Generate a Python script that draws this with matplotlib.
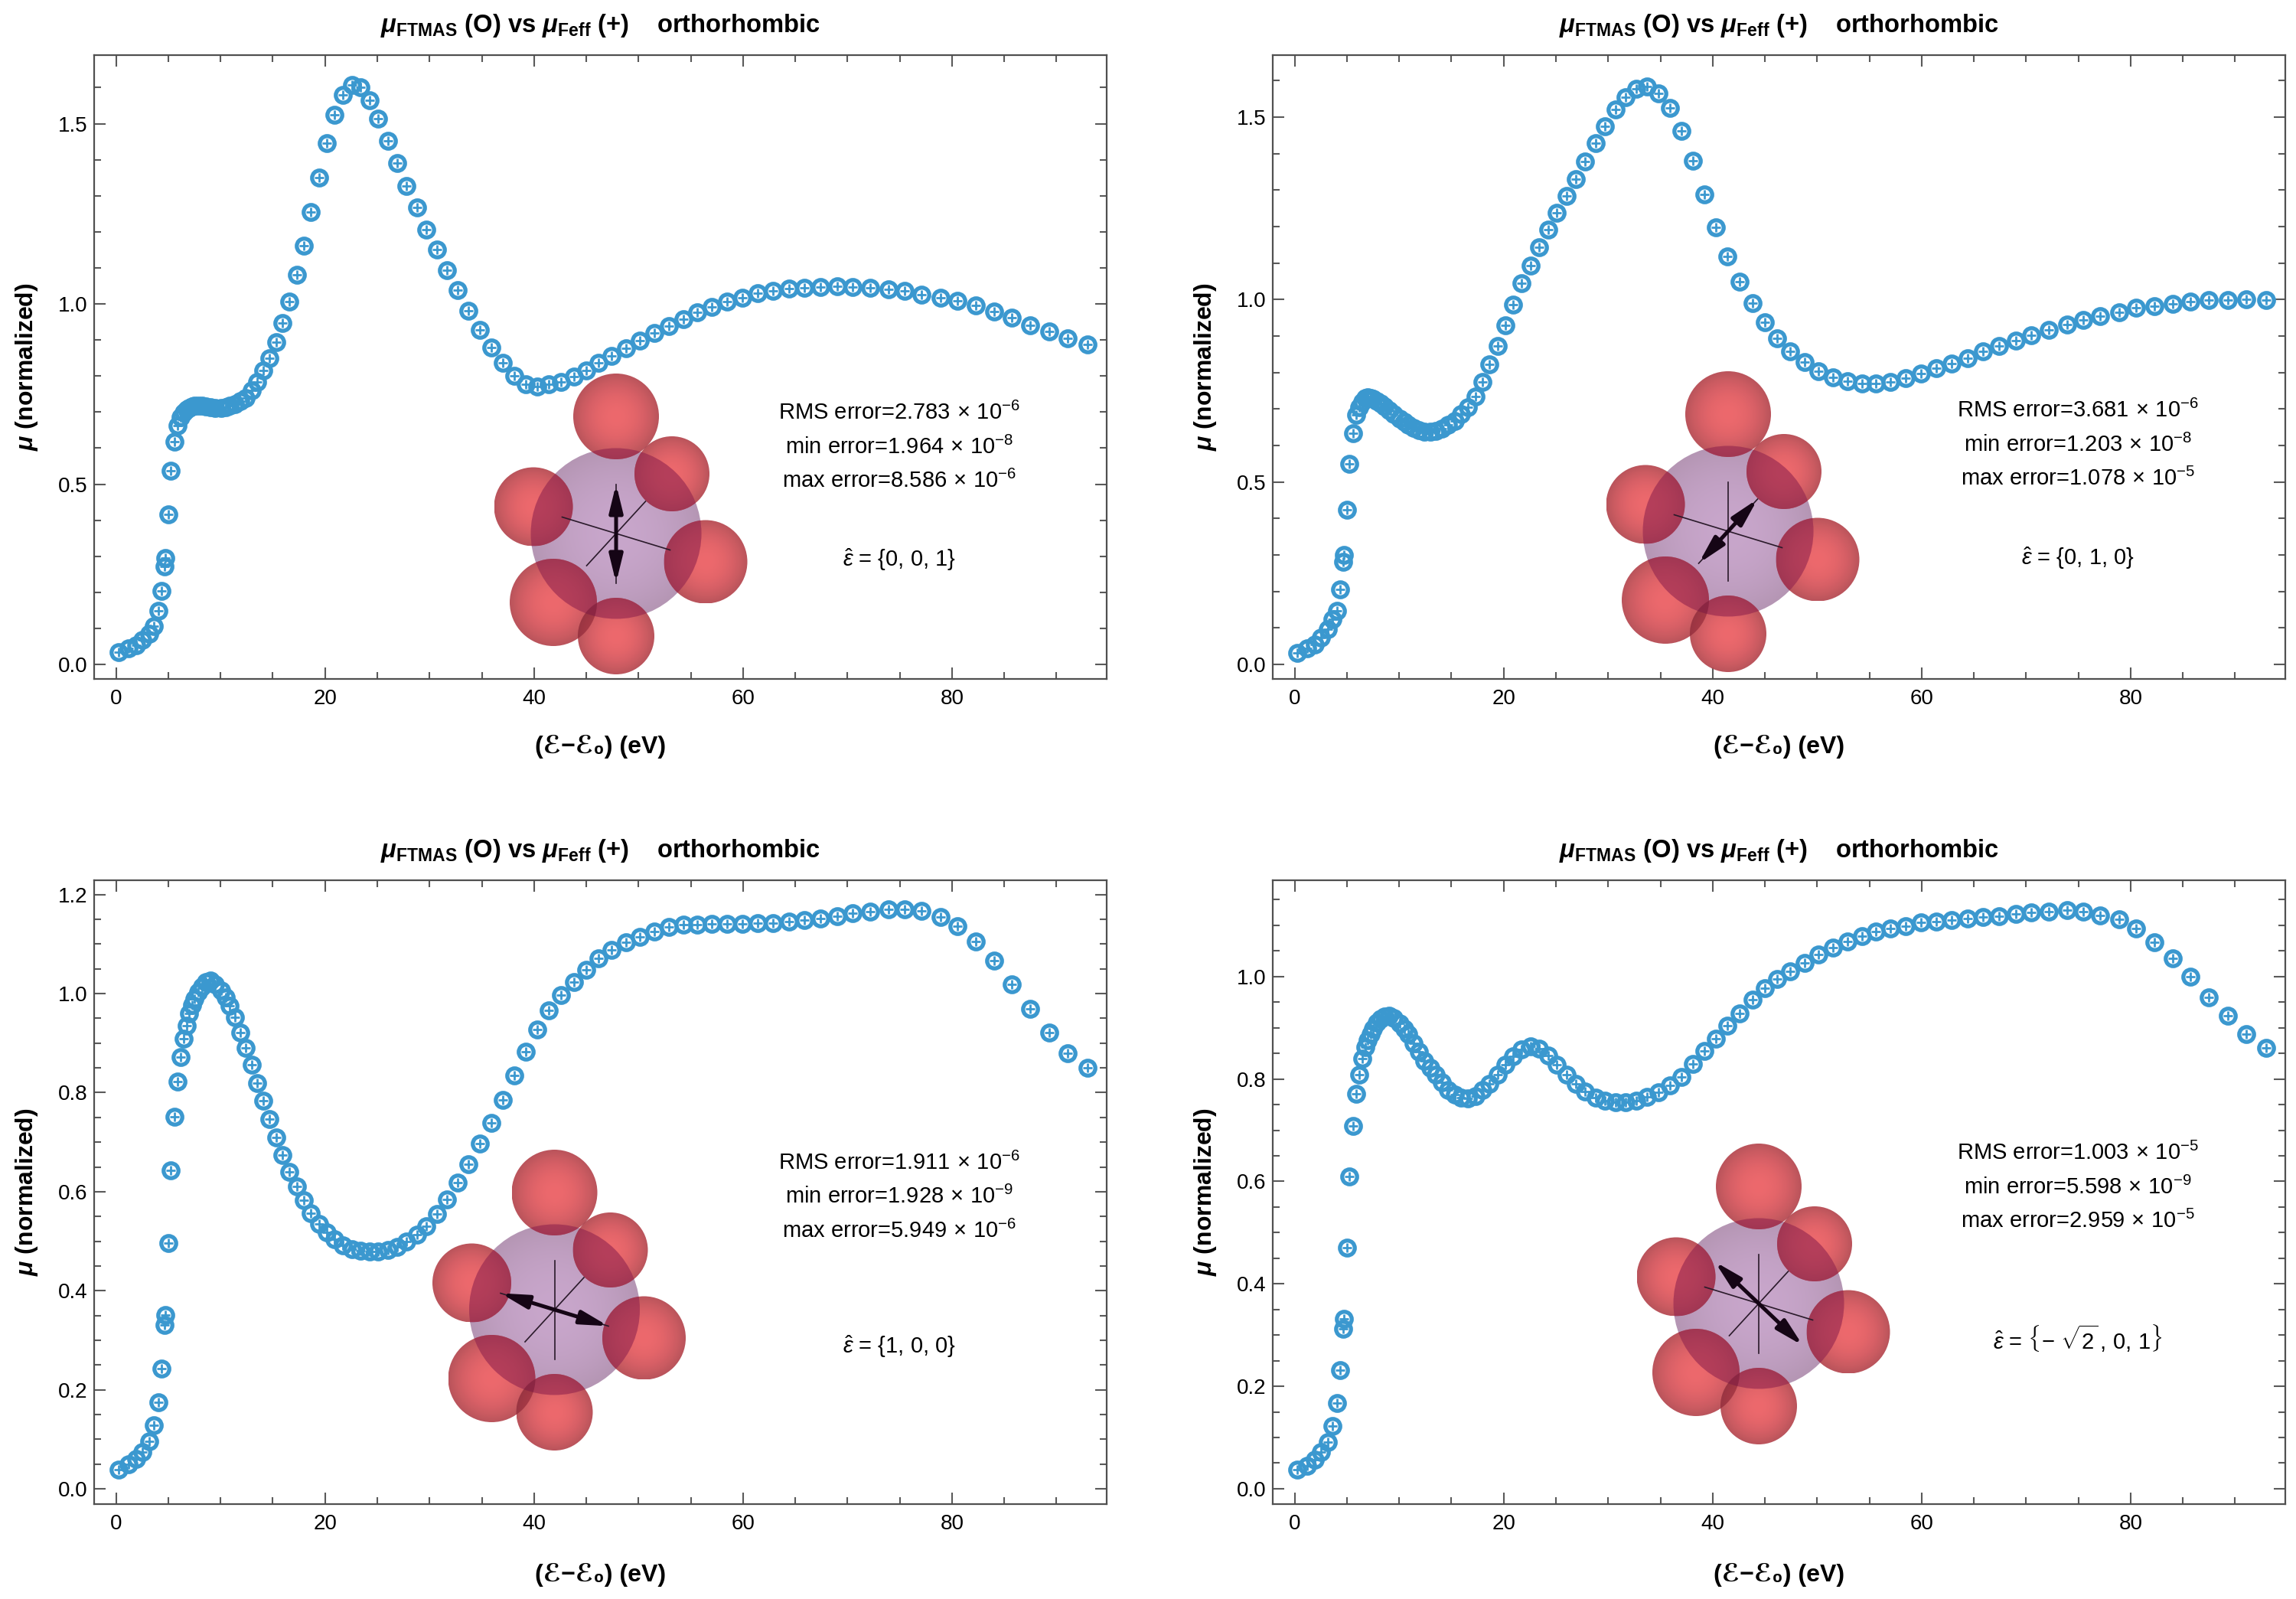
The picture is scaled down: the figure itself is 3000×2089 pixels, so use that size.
import numpy as np
import matplotlib
matplotlib.use("Agg")
import matplotlib.pyplot as plt
from matplotlib.patches import Circle
from matplotlib.ticker import MultipleLocator, FormatStrFormatter
import matplotlib.colors as mcolors

plt.rcParams['font.family'] = ['Liberation Sans', 'DejaVu Sans']
plt.rcParams['mathtext.fontset'] = 'custom'
plt.rcParams['mathtext.rm'] = 'Liberation Sans'
plt.rcParams['mathtext.it'] = 'Liberation Sans:italic'
plt.rcParams['mathtext.bf'] = 'Liberation Sans:bold'
if 'mathtext.bfit' in plt.rcParams:
    plt.rcParams['mathtext.bfit'] = 'Liberation Sans:italic:bold'

# energy grid (eV), same for all four panels
energy = [0.27, 1.18, 1.96, 2.53, 3.14, 3.64, 4.08, 4.38, 4.65, 4.69,
          4.99, 5.26, 5.60, 5.90, 6.17, 6.44, 6.78, 7.00, 7.25, 7.50,
          7.86, 8.20, 8.60, 9.00, 9.50, 10.05, 10.50, 10.90, 11.40, 11.90,
          12.40, 13.00, 13.50, 14.10, 14.70, 15.30, 15.90, 16.60, 17.30, 18.00,
          18.60, 19.40, 20.20, 20.90, 21.70, 22.60, 23.40, 24.30, 25.10, 26.00,
          26.90, 27.80, 28.80, 29.70, 30.70, 31.70, 32.70, 33.70, 34.80, 35.90,
          37.00, 38.10, 39.20, 40.30, 41.40, 42.60, 43.80, 45.00, 46.20, 47.40,
          48.80, 50.10, 51.50, 52.90, 54.30, 55.60, 57.00, 58.50, 59.90, 61.40,
          62.90, 64.40, 65.90, 67.40, 69.00, 70.50, 72.20, 73.90, 75.50, 77.10,
          78.90, 80.50, 82.30, 84.00, 85.70, 87.50, 89.30, 91.10, 93.00]

# eps = {0,0,1}
mu_001 = [0.035, 0.044, 0.054, 0.069, 0.085, 0.107, 0.149, 0.205, 0.273, 0.296,
          0.417, 0.537, 0.619, 0.663, 0.685, 0.698, 0.707, 0.712, 0.715, 0.717,
          0.718, 0.717, 0.715, 0.713, 0.711, 0.711, 0.713, 0.717, 0.723, 0.731,
          0.739, 0.761, 0.783, 0.816, 0.849, 0.894, 0.946, 1.007, 1.080, 1.162,
          1.254, 1.350, 1.445, 1.525, 1.580, 1.608, 1.600, 1.564, 1.514, 1.453,
          1.390, 1.328, 1.267, 1.207, 1.150, 1.093, 1.038, 0.982, 0.929, 0.879,
          0.836, 0.800, 0.777, 0.770, 0.777, 0.784, 0.799, 0.816, 0.836, 0.855,
          0.877, 0.898, 0.919, 0.938, 0.958, 0.976, 0.992, 1.006, 1.018, 1.029,
          1.036, 1.042, 1.045, 1.047, 1.049, 1.047, 1.045, 1.040, 1.036, 1.026,
          1.018, 1.008, 0.995, 0.978, 0.962, 0.940, 0.923, 0.905, 0.887]

# eps = {0,1,0}
mu_010 = [0.032, 0.044, 0.055, 0.074, 0.096, 0.124, 0.147, 0.205, 0.280, 0.299,
          0.423, 0.550, 0.634, 0.683, 0.705, 0.720, 0.729, 0.732, 0.731, 0.728,
          0.722, 0.715, 0.706, 0.697, 0.686, 0.674, 0.664, 0.656, 0.648, 0.642,
          0.638, 0.637, 0.640, 0.646, 0.656, 0.668, 0.686, 0.705, 0.735, 0.775,
          0.822, 0.873, 0.929, 0.986, 1.044, 1.093, 1.144, 1.192, 1.238, 1.283,
          1.331, 1.379, 1.428, 1.474, 1.520, 1.555, 1.578, 1.583, 1.566, 1.526,
          1.462, 1.381, 1.289, 1.198, 1.119, 1.049, 0.991, 0.938, 0.894, 0.857,
          0.828, 0.804, 0.787, 0.777, 0.770, 0.770, 0.775, 0.785, 0.798, 0.811,
          0.825, 0.840, 0.857, 0.872, 0.887, 0.903, 0.917, 0.931, 0.945, 0.955,
          0.966, 0.977, 0.981, 0.988, 0.994, 0.998, 0.998, 1.000, 0.998]

# eps = {1,0,0}
mu_100 = [0.039, 0.050, 0.060, 0.074, 0.096, 0.128, 0.175, 0.243, 0.330, 0.351,
          0.496, 0.643, 0.752, 0.823, 0.872, 0.909, 0.936, 0.960, 0.977, 0.990,
          1.004, 1.014, 1.023, 1.026, 1.019, 1.007, 0.993, 0.975, 0.952, 0.922,
          0.891, 0.856, 0.820, 0.784, 0.747, 0.710, 0.674, 0.640, 0.610, 0.582,
          0.557, 0.535, 0.518, 0.504, 0.491, 0.484, 0.480, 0.479, 0.479, 0.482,
          0.489, 0.499, 0.513, 0.530, 0.555, 0.585, 0.619, 0.656, 0.697, 0.739,
          0.785, 0.835, 0.883, 0.928, 0.966, 0.997, 1.024, 1.048, 1.071, 1.088,
          1.104, 1.115, 1.126, 1.134, 1.139, 1.140, 1.141, 1.141, 1.141, 1.142,
          1.143, 1.145, 1.149, 1.152, 1.157, 1.162, 1.165, 1.170, 1.170, 1.167,
          1.155, 1.136, 1.105, 1.066, 1.019, 0.969, 0.921, 0.880, 0.850]

# eps = {-sqrt2,0,1}
mu_r01 = [0.037, 0.045, 0.056, 0.071, 0.091, 0.122, 0.167, 0.231, 0.312, 0.331,
          0.471, 0.609, 0.708, 0.771, 0.808, 0.840, 0.862, 0.876, 0.888, 0.898,
          0.910, 0.917, 0.922, 0.924, 0.919, 0.908, 0.898, 0.887, 0.870, 0.853,
          0.836, 0.822, 0.809, 0.794, 0.779, 0.769, 0.764, 0.762, 0.766, 0.778,
          0.790, 0.808, 0.828, 0.845, 0.858, 0.864, 0.859, 0.846, 0.828, 0.808,
          0.791, 0.775, 0.764, 0.757, 0.754, 0.754, 0.758, 0.765, 0.774, 0.787,
          0.804, 0.829, 0.854, 0.878, 0.904, 0.928, 0.955, 0.978, 0.995, 1.010,
          1.027, 1.043, 1.056, 1.068, 1.079, 1.088, 1.094, 1.098, 1.106, 1.108,
          1.111, 1.113, 1.116, 1.118, 1.122, 1.125, 1.127, 1.129, 1.127, 1.120,
          1.112, 1.094, 1.067, 1.035, 0.999, 0.960, 0.923, 0.888, 0.861]

rms_err = ['2.783', '3.681', '1.911', '1.003']
rms_exp = ['-6', '-6', '-6', '-5']
min_err = ['1.964', '1.203', '1.928', '5.598']
min_exp = ['-8', '-8', '-9', '-9']
max_err = ['8.586', '1.078', '5.949', '2.959']
max_exp = ['-6', '-5', '-6', '-5']
eps_labels = [r'$\hat{\epsilon}$ = {0, 0, 1}',
              r'$\hat{\epsilon}$ = {0, 1, 0}',
              r'$\hat{\epsilon}$ = {1, 0, 0}',
              r'$\hat{\epsilon}$ = $\left\{-\ \sqrt{2}\,,\,0,\,1\right\}$']
eps_vec = [(0, 0, 1), (0, 1, 0), (1, 0, 0), (-np.sqrt(2), 0, 1)]

BLUE = '#3b98cf'
FRAME = '#505050'
W, H = 3000, 2089

fig = plt.figure(figsize=(15, H / 200), dpi=200)

# layout in pixels: left, top of each frame
frames = [(123, 72), (1663, 72), (123, 1150), (1663, 1150)]
fw, fh = 1323, 815
ylims = [(-0.04, 1.69), (-0.04, 1.67), (-0.031, 1.229), (-0.03, 1.188)]
ymaj = [0.5, 0.5, 0.2, 0.2]
ymin_ = [0.1, 0.1, 0.05, 0.05]
text_y = [(0.426, 0.371, 0.317, 0.191), (0.430, 0.375, 0.321, 0.194),
          (0.547, 0.493, 0.438, 0.252), (0.563, 0.507, 0.453, 0.266)]
mol_centers = [(805, 697), (2258, 694), (724.5, 1711), (2298, 1703)]

title = (r'$\mathbfit{\mu}_{\mathbf{FTMAS}}$ (O) vs $\mathbfit{\mu}_{\mathbf{Feff}}$ (+)'
         '    orthorhombic')

# molecule geometry, pixel offsets (image y downwards)
PURPLE_R = 111.5
oxy = [(0, -153, 56), (73, -78, 49), (-108, -35, 51.5),
       (117, 37, 54.5), (-82, 90, 57), (0, 134, 50)]
ax_x = np.array([70.5, 21.5])
ax_y = np.array([38.5, -42.0])
ax_z = np.array([0.0, -64.5])


def shaded_ball(ax, cx, cy, r, color, rim, alpha, z):
    n = 80
    yy, xx = np.mgrid[-1:1:n * 1j, -1:1:n * 1j]
    rr = np.clip(np.sqrt(xx ** 2 + yy ** 2), 0, 1) ** 2
    c0 = np.array(mcolors.to_rgb(color))
    c1 = np.array(mcolors.to_rgb(rim))
    img = np.zeros((n, n, 4))
    img[..., :3] = c0 * (1 - rr[..., None]) + c1 * rr[..., None]
    img[..., 3] = alpha
    im = ax.imshow(img, extent=(cx - r, cx + r, cy - r, cy + r), zorder=z,
                   interpolation='bilinear')
    im.set_clip_path(Circle((cx, cy), r, transform=ax.transData))


def draw_molecule(center, eps):
    cx, cy = center
    s = 230
    mx = fig.add_axes([(cx - s) / W, 1 - (cy + s) / H, 2 * s / W, 2 * s / H])
    mx.axis('off')
    shaded_ball(mx, 0, 0, PURPLE_R, '#c8a6cb', '#b596b4', 1.0, 1)
    balls = [(dx, -dy, r) for dx, dy, r in oxy]
    for bx, by, r in balls:
        shaded_ball(mx, bx, by, r, '#ec5d62', '#b5474f', 0.93, 2)
    purple = Circle((0, 0), PURPLE_R, transform=mx.transData)
    for bx, by, r in balls:
        c = Circle((bx, by), r, facecolor='#962a52', edgecolor='none',
                   alpha=0.62, zorder=3)
        mx.add_patch(c)
        c.set_clip_path(purple)
    for i, (ax1, ay1, r1) in enumerate(balls):
        for bx, by, r in balls[i + 1:]:
            if np.hypot(bx - ax1, by - ay1) < r + r1:
                c = Circle((bx, by), r, facecolor='#7a1e32', edgecolor='none',
                           alpha=0.45, zorder=3)
                mx.add_patch(c)
                c.set_clip_path(Circle((ax1, ay1), r1, transform=mx.transData))
    for v in (ax_x, ax_y, ax_z):
        mx.plot([-v[0], v[0]], [v[1], -v[1]], color='#2a1a2a', lw=0.6, zorder=4)
    e = np.array(eps, dtype=float)
    e = e / np.linalg.norm(e)
    d = e[0] * ax_x + e[1] * ax_y + e[2] * ax_z
    mx.annotate('', xy=(d[0], -d[1]), xytext=(-d[0], d[1]),
                arrowprops=dict(arrowstyle='<|-|>,head_length=0.9,head_width=0.22',
                                color='#150515', lw=1.8, mutation_scale=12,
                                shrinkA=0, shrinkB=0), zorder=5)
    mx.set_xlim(-s, s)
    mx.set_ylim(-s, s)
    mx.set_aspect('equal')


series = [mu_001, mu_010, mu_100, mu_r01]
for k, mu in enumerate(series):
    left, top = frames[k]
    ax = fig.add_axes([left / W, 1 - (top + fh) / H, fw / W, fh / H])
    ax.plot(energy, mu, ls='none', marker='o', ms=7.0, mew=1.9, mfc='none',
            mec=BLUE, zorder=3)
    ax.plot(energy, mu, ls='none', marker='+', ms=4.6, mew=1.0, color=BLUE,
            zorder=3)
    ax.set_xlim(-2.1, 94.8)
    ax.set_ylim(*ylims[k])
    ax.xaxis.set_major_locator(MultipleLocator(20))
    ax.xaxis.set_minor_locator(MultipleLocator(5))
    ax.yaxis.set_major_locator(MultipleLocator(ymaj[k]))
    ax.yaxis.set_minor_locator(MultipleLocator(ymin_[k]))
    ax.xaxis.set_major_formatter(FormatStrFormatter('%d'))
    ax.yaxis.set_major_formatter(FormatStrFormatter('%.1f'))
    ax.tick_params(which='both', direction='in', top=True, right=True,
                   color='#5a5a5a', width=0.75, labelsize=10)
    ax.tick_params(which='major', length=5.5)
    ax.tick_params(which='minor', length=3.2)
    ax.tick_params(axis='x', pad=4.5)
    ax.tick_params(axis='y', pad=3)
    for sp in ax.spines.values():
        sp.set_color(FRAME)
        sp.set_linewidth(0.8)

    ax.text(0.5, 1.047, title, transform=ax.transAxes, ha='center', va='center',
            fontsize=11.8, fontweight='bold')
    ax.set_xlabel('(ℰ−ℰ₀) (eV)', fontsize=11.5, fontweight='bold')
    ax.xaxis.set_label_coords(0.5, -0.108 if k < 2 else -0.114)
    ax.xaxis.label.set_va('center')
    ax.set_ylabel(r'$\mathbfit{\mu}$ (normalized)', fontsize=11.5,
                  fontweight='bold')
    ax.yaxis.set_label_coords(-0.0665, 0.5)
    ax.yaxis.label.set_va('center')

    ty = text_y[k]
    times = r'$\,\times\,$10$^{'
    ax.text(0.795, ty[0], 'RMS error=' + rms_err[k] + times + rms_exp[k] + '}$',
            transform=ax.transAxes, ha='center', va='center', fontsize=10.5)
    ax.text(0.795, ty[1], 'min error=' + min_err[k] + times + min_exp[k] + '}$',
            transform=ax.transAxes, ha='center', va='center', fontsize=10.5)
    ax.text(0.795, ty[2], 'max error=' + max_err[k] + times + max_exp[k] + '}$',
            transform=ax.transAxes, ha='center', va='center', fontsize=10.5)
    ax.text(0.795, ty[3], eps_labels[k], transform=ax.transAxes,
            ha='center', va='center', fontsize=10.5)

for k in range(4):
    draw_molecule(mol_centers[k], eps_vec[k])

fig.savefig('out.png', dpi=200, facecolor='white')
